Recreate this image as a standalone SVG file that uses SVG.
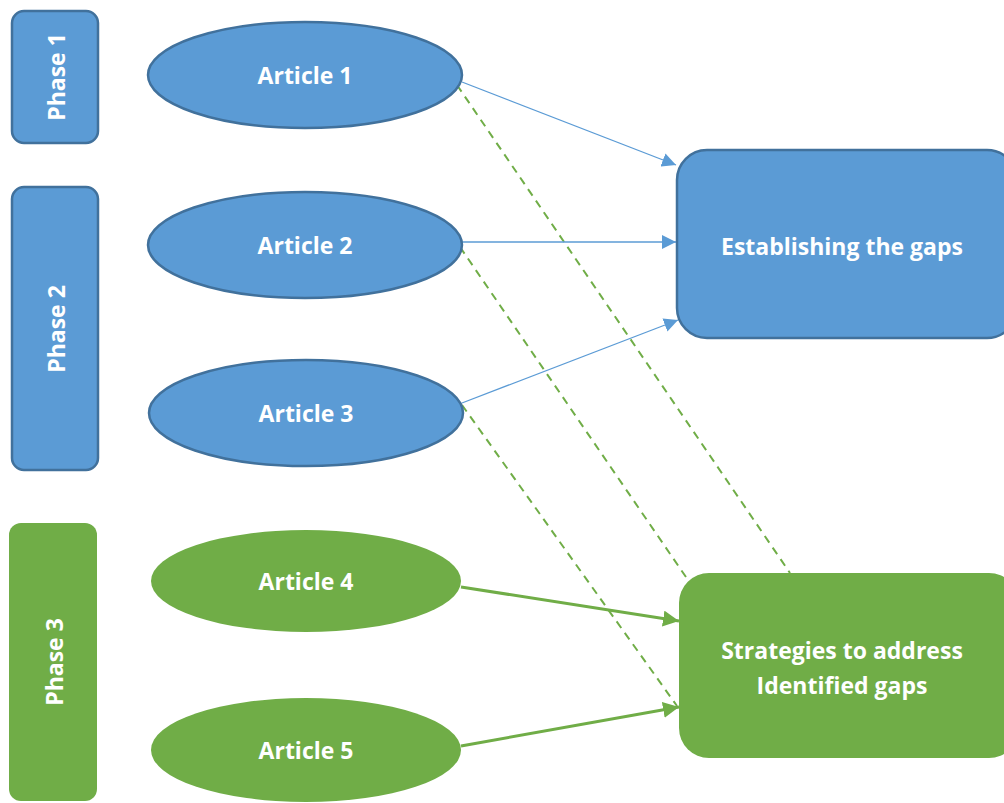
<svg xmlns="http://www.w3.org/2000/svg" width="1004" height="803" viewBox="0 0 1004 803">
  <style>
    .blue { fill: #5b9bd5; stroke: #41719c; stroke-width: 2.5; }
    .green { fill: #70ad47; stroke: none; }
    .lbl { font-family: "Open Sans", Lato, "Liberation Sans", sans-serif; font-weight: bold; fill: #ffffff; font-size: 23px; text-anchor: middle; dominant-baseline: central; }
    .thin { stroke: #5b9bd5; stroke-width: 1.3; fill: none; }
    .thick { stroke: #70ad47; stroke-width: 3; fill: none; }
    .dash { stroke: #70ad47; stroke-width: 2; stroke-dasharray: 8 6; fill: none; }
  </style>
  <defs>
    <marker id="arrBlue" viewBox="0 0 10 10" refX="10" refY="5" markerWidth="14" markerHeight="14" markerUnits="userSpaceOnUse" orient="auto">
      <path d="M0,0 L10,5 L0,10 z" fill="#5b9bd5"/>
    </marker>
    <marker id="arrGreen" viewBox="0 0 10 10" refX="10" refY="5" markerWidth="16" markerHeight="16" markerUnits="userSpaceOnUse" orient="auto">
      <path d="M0,0 L10,5 L0,10 z" fill="#70ad47"/>
    </marker>
  </defs>

  <!-- connectors -->
  <g id="connectors">
    <line class="dash" x1="457" y1="85" x2="790" y2="573"/>
    <line class="dash" x1="460" y1="247" x2="688" y2="580"/>
    <line class="dash" x1="462" y1="405" x2="677" y2="706"/>
    <line class="thin" x1="462" y1="82" x2="676" y2="165" marker-end="url(#arrBlue)"/>
    <line class="thin" x1="462" y1="242" x2="676" y2="242" marker-end="url(#arrBlue)"/>
    <line class="thin" x1="462" y1="403" x2="678" y2="320" marker-end="url(#arrBlue)"/>
    <line class="thick" x1="461" y1="587" x2="679" y2="621" marker-end="url(#arrGreen)"/>
    <line class="thick" x1="461" y1="746" x2="679" y2="707" marker-end="url(#arrGreen)"/>
  </g>

  <!-- phase bars -->
  <g id="phase1">
    <rect class="blue" x="12" y="11" width="86" height="132" rx="12"/>
    <text class="lbl" transform="translate(56,77) rotate(-90)">Phase 1</text>
  </g>
  <g id="phase2">
    <rect class="blue" x="12" y="187" width="86" height="283" rx="12"/>
    <text class="lbl" transform="translate(56,329) rotate(-90)">Phase 2</text>
  </g>
  <g id="phase3">
    <rect class="green" x="9" y="523" width="88" height="278" rx="12"/>
    <text class="lbl" transform="translate(54,662) rotate(-90)">Phase 3</text>
  </g>

  <!-- articles -->
  <g id="article1">
    <ellipse class="blue" cx="305" cy="75" rx="157" ry="53"/>
    <text class="lbl" x="305" y="75">Article 1</text>
  </g>
  <g id="article2">
    <ellipse class="blue" cx="305" cy="245" rx="157" ry="53"/>
    <text class="lbl" x="305" y="245">Article 2</text>
  </g>
  <g id="article3">
    <ellipse class="blue" cx="306" cy="413" rx="157" ry="53"/>
    <text class="lbl" x="306" y="413">Article 3</text>
  </g>
  <g id="article4">
    <ellipse class="green" cx="306" cy="581" rx="155" ry="51"/>
    <text class="lbl" x="306" y="581">Article 4</text>
  </g>
  <g id="article5">
    <ellipse class="green" cx="306" cy="750" rx="155" ry="52"/>
    <text class="lbl" x="306" y="750">Article 5</text>
  </g>

  <!-- outcome boxes -->
  <g id="gaps">
    <rect class="blue" x="677" y="150" width="340" height="188" rx="30"/>
    <text class="lbl" x="842" y="246">Establishing the gaps</text>
  </g>
  <g id="strategies">
    <rect class="green" x="679" y="573" width="340" height="185" rx="30"/>
    <text class="lbl" x="842" y="650">Strategies to address</text>
    <text class="lbl" x="842" y="685">Identified gaps</text>
  </g>
</svg>
